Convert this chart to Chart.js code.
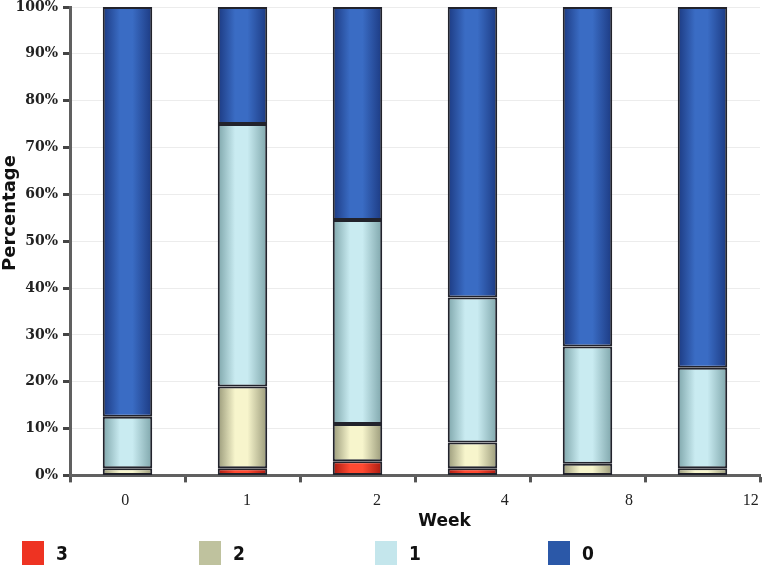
<!DOCTYPE html>
<html>
<head>
<meta charset="utf-8">
<script src="https://cdn.jsdelivr.net/npm/chart.js@4"></script>
<style>
  html, body { margin: 0; padding: 0; background: #fff; }
  #wrap { position: relative; width: 771px; height: 569px; }
  #legend { position: absolute; left: 0; top: 541px; width: 771px; height: 28px; }
  .item { position: absolute; top: 0; display: flex; align-items: center; font: bold 19px "DejaVu Sans Condensed", "DejaVu Sans", sans-serif; color: #111; }
  .box { width: 22px; height: 24px; margin-right: 12px; }
</style>
</head>
<body>
<div id="wrap">
  <canvas id="c" width="771" height="569"></canvas>
  <div id="legend"></div>
</div>
<script>
const weeks = ['0', '1', '2', '4', '8', '12'];
const seriesNames = ['3', '2', '1', '0'];
const grade3 = [0, 1.5, 3, 1.5, 0, 0];
const grade2 = [1.5, 17.5, 8, 5.5, 2.5, 1.5];
const grade1 = [11, 56, 43.5, 31, 25, 21.5];
const grade0 = [87.5, 25, 45.5, 62, 72.5, 77];
const yTicks = [0, 10, 20, 30, 40, 50, 60, 70, 80, 90, 100];

const palette = [
  { legend: '#ee3322', center: '#ff4a32', edge: '#a81a10' },
  { legend: '#bfc29e', center: '#f7f5cc', edge: '#9a9a7a' },
  { legend: '#c4e6ec', center: '#c9ebf1', edge: '#7fa6ab' },
  { legend: '#2b58a8', center: '#3a6cc4', edge: '#1c3a82' }
];

function gradFill(p) {
  return (ctx) => {
    if (ctx.type !== 'data') return p.center;
    const el = ctx.chart.getDatasetMeta(ctx.datasetIndex).data[ctx.dataIndex];
    if (!el || !isFinite(el.x) || !el.width) return p.center;
    const g = ctx.chart.ctx.createLinearGradient(el.x - el.width / 2, 0, el.x + el.width / 2, 0);
    g.addColorStop(0, p.edge);
    g.addColorStop(0.35, p.center);
    g.addColorStop(0.6, p.center);
    g.addColorStop(1, p.edge);
    return g;
  };
}

const seriesValues = [grade3, grade2, grade1, grade0];
const datasets = seriesValues.map((vals, i) => ({
  label: seriesNames[i],
  data: vals,
  backgroundColor: gradFill(palette[i]),
  borderColor: '#22232c',
  borderWidth: 2,
  borderSkipped: false,
  barPercentage: 0.86,
  categoryPercentage: 0.5,
  xAxisID: 'x'
}));

const labelSpots = [-0.02, 1.04, 2.17, 3.28, 4.36, 5.42];
const titleFont = '"DejaVu Sans", sans-serif';

const chart = new Chart(document.getElementById('c'), {
  type: 'bar',
  data: { labels: weeks, datasets },
  options: {
    responsive: false,
    animation: false,
    layout: { padding: { left: 0, right: 11, top: 7, bottom: 37 } },
    plugins: { legend: { display: false }, tooltip: { enabled: false } },
    scales: {
      x: {
        type: 'category',
        stacked: true,
        offset: true,
        position: 'bottom',
        grid: { display: true, offset: true, drawOnChartArea: false, drawTicks: true, tickLength: 7, tickWidth: 3, tickColor: '#555' },
        border: { display: true, color: '#606060', width: 3 },
        ticks: { display: false }
      },
      xl: {
        type: 'linear',
        position: 'bottom',
        offset: false,
        min: -0.5,
        max: 5.5,
        grid: { display: false },
        border: { display: false },
        afterBuildTicks: (axis) => { axis.ticks = labelSpots.map(v => ({ value: v })); },
        ticks: {
          autoSkip: false,
          maxRotation: 0,
          padding: 1,
          color: '#222',
          font: { family: '"Liberation Serif", serif', size: 16 },
          callback: (v, i) => weeks[i]
        },
        title: { display: true, text: '          Week', color: '#111', padding: { top: 0, bottom: 0 }, font: { family: titleFont, size: 17, weight: 'bold' } }
      },
      y: {
        stacked: true,
        min: 0,
        max: 100,
        afterBuildTicks: (axis) => { axis.ticks = yTicks.map(v => ({ value: v })); },
        afterFit: (axis) => { axis.width = 70; axis.paddingTop = 0; axis.paddingBottom = 0; },
        grid: { color: '#ececec', lineWidth: 1, drawTicks: true, tickLength: 7, tickWidth: 3, tickColor: '#444' },
        border: { display: true, color: '#606060', width: 3 },
        ticks: {
          padding: 5,
          color: '#222',
          font: { family: '"DejaVu Serif", serif', size: 14, weight: 'bold' },
          callback: (v) => v + '%'
        },
        title: { display: true, text: '         Percentage', color: '#111', padding: { top: 0, bottom: 0 }, font: { family: titleFont, size: 18, weight: 'bold' } }
      }
    }
  }
});
chart.update('none');

const legendEl = document.getElementById('legend');
const legendX = [22, 199, 375, 548];
seriesNames.forEach((name, i) => {
  const it = document.createElement('div');
  it.className = 'item';
  it.style.left = legendX[i] + 'px';
  const b = document.createElement('span');
  b.className = 'box';
  b.style.background = palette[i].legend;
  const t = document.createElement('span');
  t.textContent = name;
  it.appendChild(b);
  it.appendChild(t);
  legendEl.appendChild(it);
});
</script>
</body>
</html>
